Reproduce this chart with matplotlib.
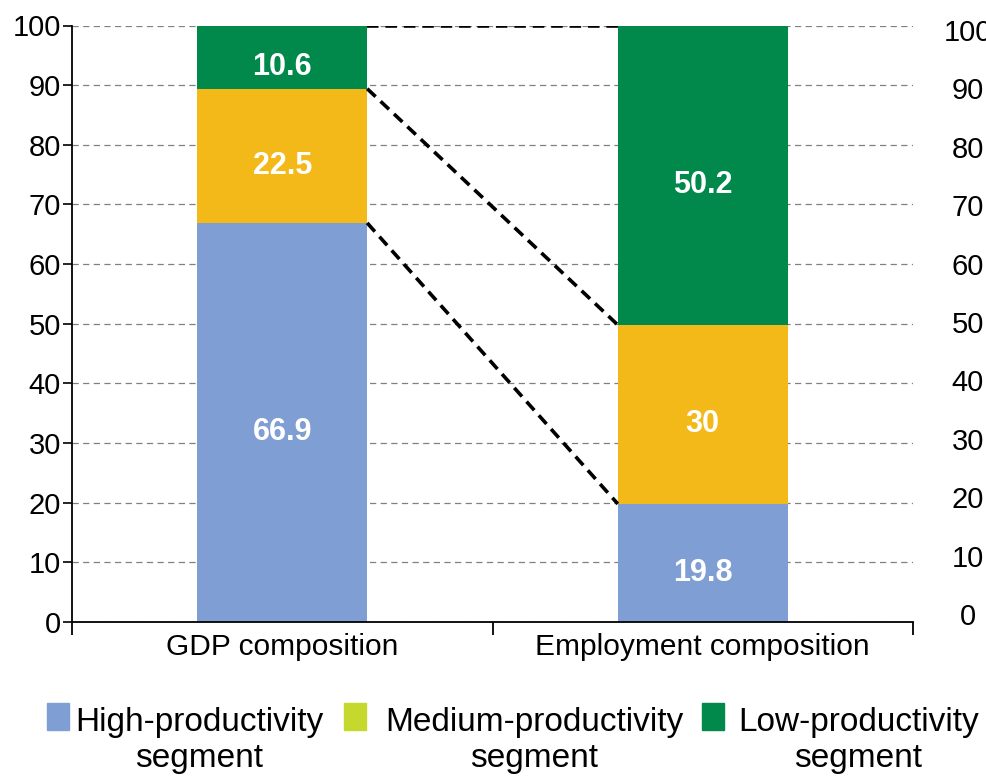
import matplotlib
matplotlib.use("Agg")
import matplotlib.pyplot as plt
from matplotlib.patches import Rectangle
import numpy as np

# ---------------- data ----------------
categories = ["GDP composition", "Employment composition"]
segment_names = ["High-productivity\nsegment",
                 "Medium-productivity\nsegment",
                 "Low-productivity\nsegment"]
high = [66.9, 19.8]
medium = [22.5, 30.0]
low = [10.6, 50.2]
value_labels = [["66.9", "19.8"], ["22.5", "30"], ["10.6", "50.2"]]
yticks = [0, 10, 20, 30, 40, 50, 60, 70, 80, 90, 100]

# ---------------- style ----------------
bar_colors = ["#7F9FD4", "#F3B918", "#00894A"]
legend_colors = ["#7F9FD4", "#C4D82E", "#00894A"]
plt.rcParams["font.family"] = ["Liberation Sans", "DejaVu Sans"]

W, H = 986, 777
fig = plt.figure(figsize=(W / 100, H / 100), dpi=100)
ax = fig.add_axes([72 / W, 1 - 622 / H, (913 - 72) / W, (622 - 25.5) / H])

x = np.arange(len(categories))
width = 0.404
series = [high, medium, low]
bottoms = np.zeros(len(categories))
cum_tops = []
for vals, col, labs in zip(series, bar_colors, value_labels):
    vals = np.array(vals)
    ax.bar(x, vals, width, bottom=bottoms, color=col, zorder=2)
    for xi, b, v, lab in zip(x, bottoms, vals, labs):
        ax.annotate(lab, (xi, b + v / 2), xytext=(0, -7), textcoords="offset points",
                    ha="center", va="center", color="white", fontsize=22,
                    fontweight="bold", zorder=4)
    bottoms = bottoms + vals
    cum_tops.append(bottoms.copy())

# dashed connectors between segment boundaries
for t in cum_tops:
    ax.plot([x[0] + width / 2, x[1] - width / 2], [t[0], t[1]], color="black",
            linestyle=(0, (3.2, 1.9)), lw=2.6, zorder=3)

ax.set_xlim(-0.5, 1.5)
ax.set_ylim(0, 100)
ax.set_yticks(yticks)
ax.set_yticklabels([str(v) for v in yticks])
ax.yaxis.grid(True, color="#808080", linestyle=(0, (5, 3.5)), lw=0.9)
ax.set_axisbelow(True)

for s in ["top", "right"]:
    ax.spines[s].set_visible(False)
for s in ["left", "bottom"]:
    ax.spines[s].set_linewidth(1.3)
    ax.spines[s].set_color("black")

ax.set_xticks([-0.5, 0.5, 1.5])
ax.set_xticklabels([])
ax.set_xticks(x, minor=True)
ax.set_xticklabels(categories, minor=True)
ax.tick_params(axis="x", which="major", length=9, width=1.3, direction="out")
ax.tick_params(axis="x", which="minor", length=0, pad=8, labelsize=21.5)
ax.tick_params(axis="y", length=6.5, width=1.2, pad=1.5, labelsize=21)

# right-hand duplicate labels
ax2 = ax.twinx()
ax2.set_ylim(-1.37, 100.77)
ax2.set_yticks(yticks)
ax2.set_yticklabels([str(v) for v in yticks])
for s in ax2.spines.values():
    s.set_visible(False)
ax2.tick_params(axis="y", length=0, pad=39.6, labelsize=21)
plt.setp(ax2.get_yticklabels(), ha="center")

# legend (manual, to place swatch at first text line)
handle_x = [47, 344, 702]
text_x = [75, 385, 738]
for hx, tx, col, name in zip(handle_x, text_x, legend_colors, segment_names):
    fig.add_artist(Rectangle((hx / W, 1 - 730 / H), 22 / W, 27 / H,
                             transform=fig.transFigure, color=col))
    fig.text(tx / W, 1 - 767 / H, name, ha="left", va="baseline",
             multialignment="center", fontsize=24, linespacing=1.2)

fig.savefig("out.png", dpi=100)
